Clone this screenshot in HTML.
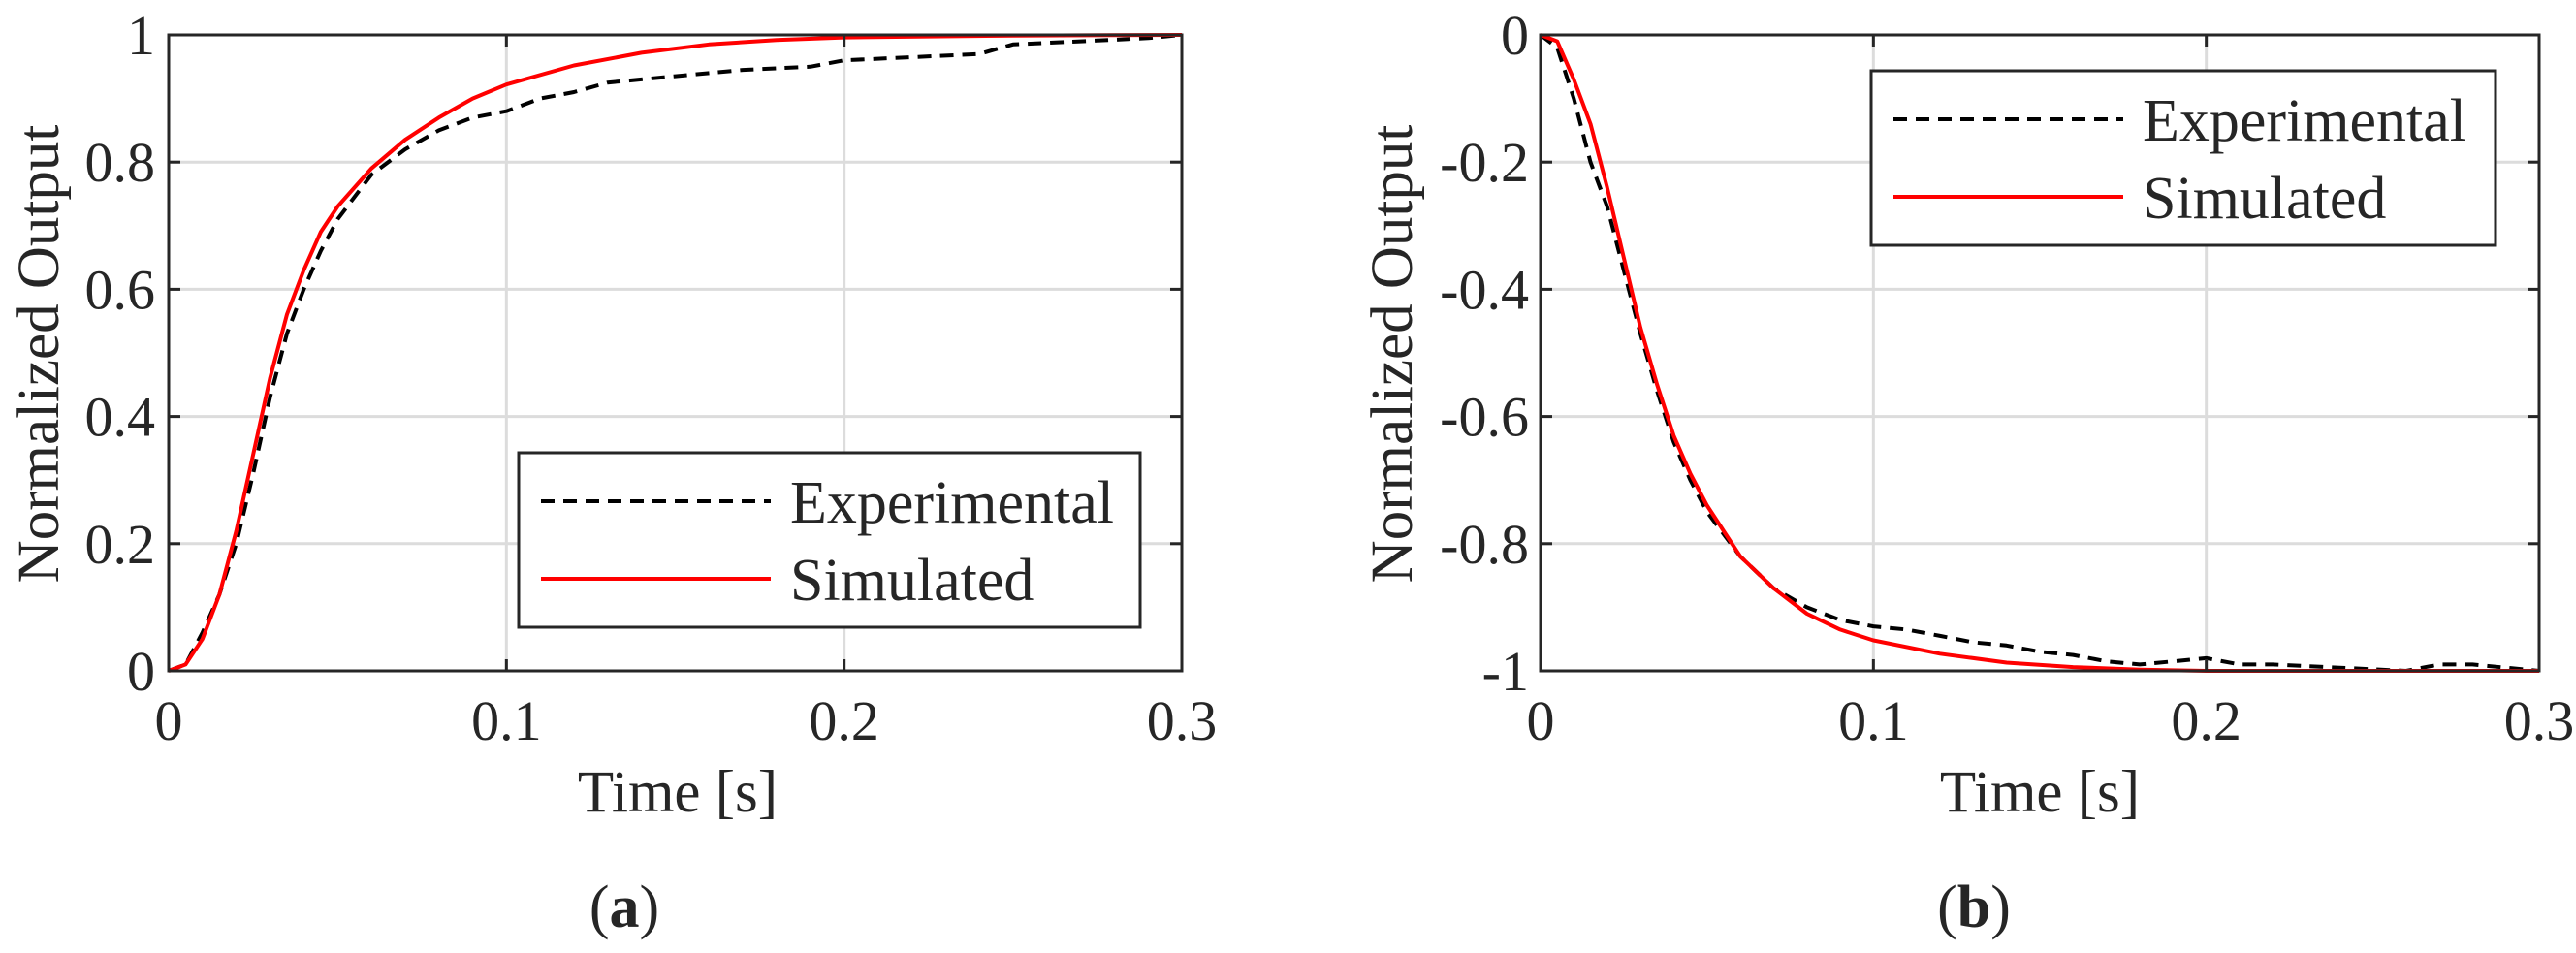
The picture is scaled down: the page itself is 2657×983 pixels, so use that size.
<!DOCTYPE html>
<html><head><meta charset="utf-8"><style>
html,body{margin:0;padding:0;background:#fff;}
svg text{font-family:"Liberation Serif","Times New Roman","DejaVu Serif",serif !important;fill:#262626;}
</style></head><body>
<svg id="fig" width="2657" height="978" viewBox="0 0 2657 978" xmlns="http://www.w3.org/2000/svg" font-family="Liberation Serif, serif"></svg>
<script>
const xTicks=[0,0.1,0.2,0.3];
const xTickLabels=["0","0.1","0.2","0.3"];
const yTicksA=[0,0.2,0.4,0.6,0.8,1];
const yTickLabelsA=["0","0.2","0.4","0.6","0.8","1"];
const yTicksB=[-1,-0.8,-0.6,-0.4,-0.2,0];
const yTickLabelsB=["-1","-0.8","-0.6","-0.4","-0.2","0"];
const expA_t=[0,0.005,0.01,0.015,0.02,0.025,0.03,0.035,0.04,0.045,0.05,0.06,0.07,0.08,0.09,0.1,0.11,0.12,0.13,0.15,0.17,0.19,0.2,0.22,0.24,0.25,0.27,0.29,0.3];
const expA_y=[0,0.01,0.06,0.12,0.2,0.31,0.43,0.53,0.6,0.66,0.71,0.78,0.82,0.85,0.87,0.88,0.9,0.91,0.925,0.935,0.945,0.95,0.96,0.965,0.97,0.985,0.99,0.995,1];
const simA_t=[0,0.005,0.01,0.015,0.02,0.025,0.03,0.035,0.04,0.045,0.05,0.06,0.07,0.08,0.09,0.1,0.12,0.14,0.16,0.18,0.2,0.25,0.3];
const simA_y=[0,0.01,0.05,0.12,0.22,0.34,0.46,0.56,0.63,0.69,0.73,0.79,0.835,0.87,0.9,0.922,0.952,0.972,0.985,0.992,0.996,0.999,1];
const expB_t=[0,0.005,0.01,0.015,0.02,0.025,0.03,0.035,0.04,0.045,0.05,0.06,0.07,0.08,0.09,0.1,0.11,0.12,0.13,0.14,0.15,0.16,0.17,0.18,0.19,0.2,0.21,0.22,0.24,0.26,0.27,0.28,0.29,0.3];
const expB_y=[0,-0.02,-0.1,-0.2,-0.27,-0.37,-0.47,-0.56,-0.64,-0.7,-0.75,-0.82,-0.87,-0.9,-0.92,-0.93,-0.935,-0.945,-0.955,-0.96,-0.97,-0.975,-0.985,-0.99,-0.985,-0.98,-0.99,-0.99,-0.995,-1,-0.99,-0.99,-0.995,-1];
const simB_t=[0,0.005,0.01,0.015,0.02,0.025,0.03,0.035,0.04,0.045,0.05,0.06,0.07,0.08,0.09,0.1,0.12,0.14,0.16,0.18,0.2,0.25,0.3];
const simB_y=[0,-0.01,-0.07,-0.14,-0.24,-0.35,-0.46,-0.55,-0.63,-0.69,-0.74,-0.82,-0.87,-0.91,-0.935,-0.952,-0.973,-0.987,-0.994,-0.998,-1,-1,-1];

const NS="http://www.w3.org/2000/svg";
const svg=document.getElementById('fig');
function mk(tag,attrs,parent){const e=document.createElementNS(NS,tag);for(const k in attrs)e.setAttribute(k,attrs[k]);if(tag==='text')e.setAttribute('font-family','Liberation Serif, serif');(parent||svg).appendChild(e);return e;}

function panel(cfg){
  const g=mk('g',{});
  
  
  const L=cfg.L,R=cfg.R,T=36,B=692;
  const xs=v=>L+(v-0)/(0.3)*(R-L);
  const ys=v=>B-(v-cfg.ymin)/(cfg.ymax-cfg.ymin)*(B-T);
  xTicks.forEach((t,i)=>{
    if(i>0&&i<xTicks.length-1){const l=mk('line',{x1:xs(t),x2:xs(t),y1:T,y2:B,stroke:'#dcdcdc','stroke-width':3},g);
    }
  });
  cfg.yt.forEach((t,i)=>{
    if(i>0&&i<cfg.yt.length-1){const l=mk('line',{x1:L,x2:R,y1:ys(t),y2:ys(t),stroke:'#dcdcdc','stroke-width':3},g);
    }
  });
  function path(ts,vs,color,dash,name){
    let d='';ts.forEach((t,i)=>{d+=(i?'L':'M')+xs(t).toFixed(1)+','+ys(vs[i]).toFixed(1);});
    const p=mk('path',{d:d,fill:'none',stroke:color,'stroke-width':4,'stroke-linejoin':'round'},g);
    if(dash)p.setAttribute('stroke-dasharray',dash);
    
  }
  path(cfg.et,cfg.ey,'#000','14 9','experimental-line');
  path(cfg.st,cfg.sy,'#ff0000',null,'simulated-line');
  const fr=mk('rect',{x:L,y:T,width:R-L,height:B-T,fill:'none',stroke:'#262626','stroke-width':3},g);
  
  xTicks.forEach((t,i)=>{
    mk('line',{x1:xs(t),x2:xs(t),y1:B,y2:B-12,stroke:'#262626','stroke-width':3},g);
    mk('line',{x1:xs(t),x2:xs(t),y1:T,y2:T+12,stroke:'#262626','stroke-width':3},g);
    const tx=mk('text',{x:xs(t),y:763,'text-anchor':'middle','font-size':58},g);
    tx.textContent=xTickLabels[i];
    
  });
  cfg.yt.forEach((t,i)=>{
    mk('line',{x1:L,x2:L+12,y1:ys(t),y2:ys(t),stroke:'#262626','stroke-width':3},g);
    mk('line',{x1:R,x2:R-12,y1:ys(t),y2:ys(t),stroke:'#262626','stroke-width':3},g);
    const tx=mk('text',{x:cfg.ytx,y:ys(t)+20,'text-anchor':'end','font-size':58},g);
    tx.textContent=cfg.ytl[i];
    
  });
  const xl=mk('text',{x:cfg.xlx,y:837,'text-anchor':'middle','font-size':61},g);
  xl.textContent='Time [s]';
  const yl=mk('text',{x:0,y:0,'text-anchor':'middle','font-size':61,transform:`translate(${cfg.ylx+20},365) rotate(-90)`},g);
  yl.textContent='Normalized Output';
  const cap=mk('text',{x:cfg.capx,y:956,'text-anchor':'middle','font-size':62},g);
  cap.innerHTML='(<tspan font-weight="bold">'+cfg.cap+'</tspan>)';
  
  const lg=mk('g',{},g);
  
  const lb=cfg.leg;
  mk('rect',{x:lb.x,y:lb.y,width:lb.w,height:lb.h,fill:'#fff',stroke:'#262626','stroke-width':3},lg);
  const e1=mk('line',{x1:lb.x+23,x2:lb.x+260,y1:lb.y+50,y2:lb.y+50,stroke:'#000','stroke-width':4,'stroke-dasharray':'14 9'},lg);
  
  const t1=mk('text',{x:lb.x+280,y:lb.y+72,'font-size':62},lg);t1.textContent='Experimental';
  const e2=mk('line',{x1:lb.x+23,x2:lb.x+260,y1:lb.y+130,y2:lb.y+130,stroke:'#ff0000','stroke-width':4},lg);
  
  const t2=mk('text',{x:lb.x+280,y:lb.y+152,'font-size':62},lg);t2.textContent='Simulated';
}
panel({name:'panel-a',L:174,R:1219,ymin:0,ymax:1,yt:yTicksA,ytl:yTickLabelsA,ytx:160,xlx:699,ylx:40,capx:644,cap:'a',
  et:expA_t,ey:expA_y,st:simA_t,sy:simA_y,leg:{x:535,y:467,w:641,h:180}});
panel({name:'panel-b',L:1589,R:2619,ymin:-1,ymax:0,yt:yTicksB,ytl:yTickLabelsB,ytx:1577,xlx:2104,ylx:1436,capx:2036,cap:'b',
  et:expB_t,ey:expB_y,st:simB_t,sy:simB_y,leg:{x:1930,y:73,w:644,h:180}});
</script>
</body></html>
